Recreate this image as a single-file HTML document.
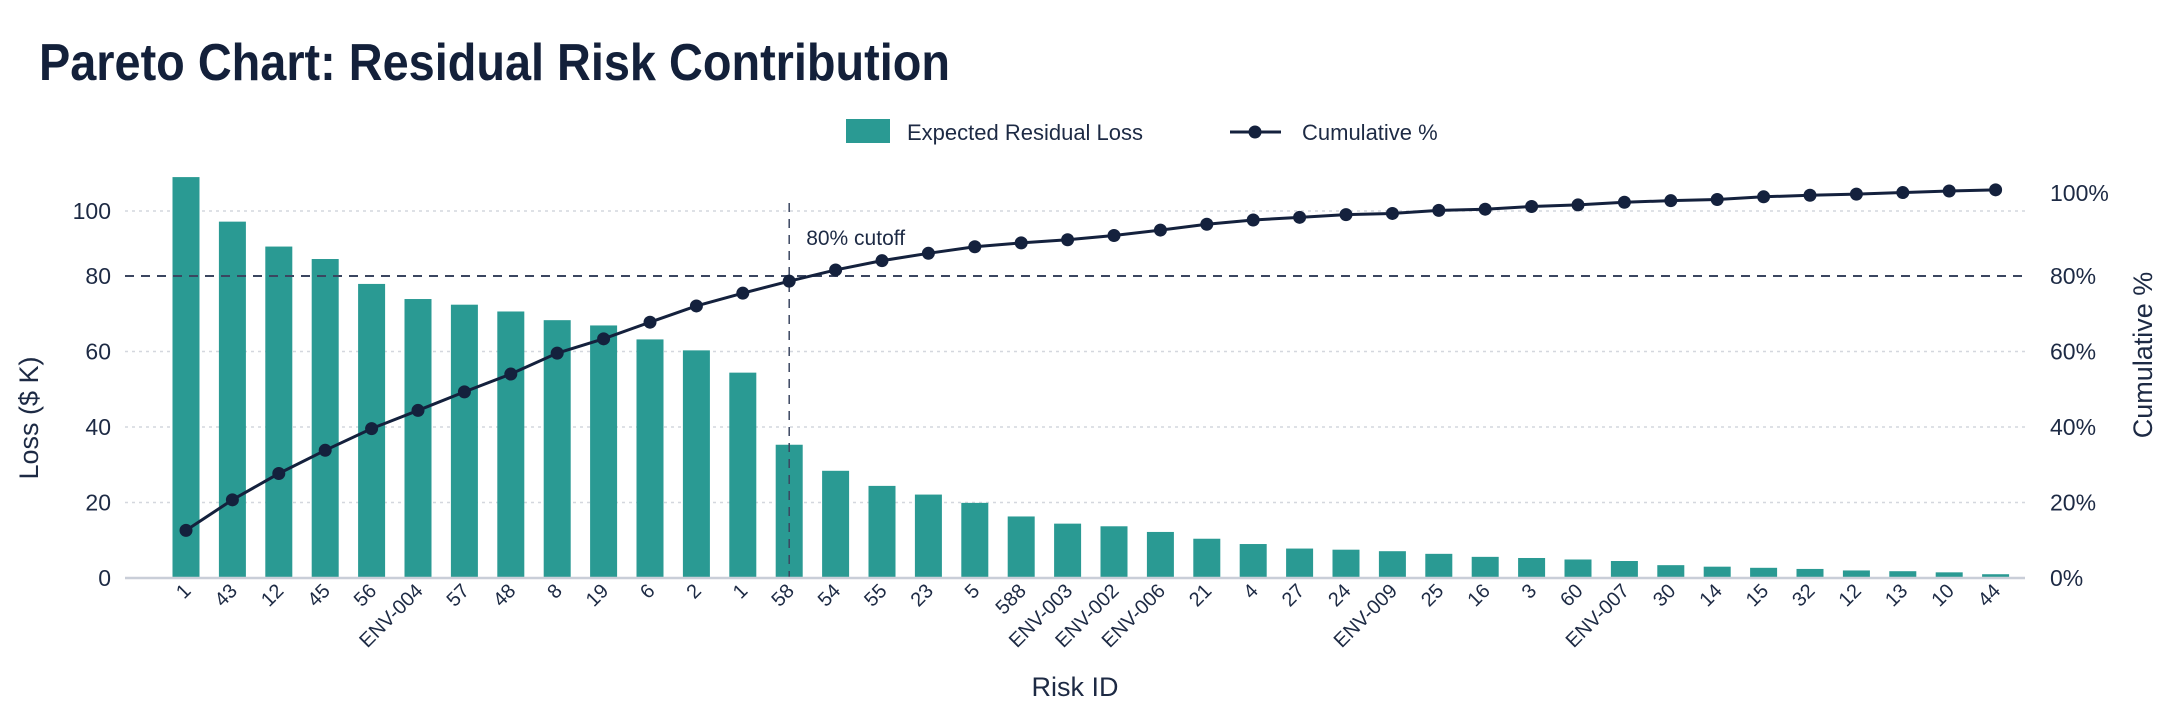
<!DOCTYPE html>
<html><head><meta charset="utf-8">
<style>
html,body{margin:0;padding:0;background:#fff;}
svg{display:block;font-family:"Liberation Sans",sans-serif;}
</style></head>
<body>
<svg id="chart" width="2172" height="724" viewBox="0 0 2172 724" xmlns="http://www.w3.org/2000/svg">
<text x="39" y="80" font-size="52" font-weight="bold" fill="#13203a" textLength="911" lengthAdjust="spacingAndGlyphs">Pareto Chart: Residual Risk Contribution</text>
<g>
<rect x="846" y="119" width="44" height="24" fill="#2a9a93"/>
<text x="907" y="140" font-size="22" fill="#1d2a44">Expected Residual Loss</text>
<line x1="1230" y1="132" x2="1281" y2="132" stroke="#14213d" stroke-width="3"/>
<circle cx="1255" cy="132" r="6.5" fill="#14213d"/>
<text x="1302" y="140" font-size="22" fill="#1d2a44">Cumulative %</text>
</g>
<g id="grid"></g>
<g id="bars"></g>
<g id="refs"></g>
<g id="line"></g>
<g id="axes"></g>
<text transform="translate(38,418) rotate(-90)" text-anchor="middle" font-size="27" fill="#1d2a44">Loss ($ K)</text>
<text transform="translate(2152,355) rotate(-90)" text-anchor="middle" font-size="27" fill="#1d2a44">Cumulative %</text>
<text x="1075" y="696" text-anchor="middle" font-size="27" fill="#1d2a44">Risk ID</text>
</svg>
<script>
const categories = ["1","43","12","45","56","ENV-004","57","48","8","19","6","2","1","58","54","55","23","5","588","ENV-003","ENV-002","ENV-006","21","4","27","24","ENV-009","25","16","3","60","ENV-007","30","14","15","32","12","13","10","44"];
const lossValues = [106.2,94.4,87.8,84.5,77.9,73.9,72.4,70.6,68.3,66.9,63.2,60.3,54.4,35.3,28.4,24.4,22.1,19.9,16.3,14.4,13.7,12.2,10.4,9.0,7.8,7.5,7.1,6.4,5.6,5.3,4.9,4.5,3.4,3.0,2.7,2.4,2.0,1.8,1.5,1.0];
const cumulativePct = [12.3,20.2,27.0,33.0,38.6,43.3,48.1,52.7,58.1,61.8,66.1,70.3,73.6,76.7,79.6,82.0,83.9,85.6,86.6,87.4,88.5,89.9,91.4,92.5,93.2,93.9,94.2,95.0,95.3,96.0,96.4,97.1,97.5,97.8,98.5,98.9,99.2,99.6,100.0,100.3];
const leftTicks = [0,20,40,60,80,100];
const rightTicks = [0,20,40,60,80,100];
const cutoffLoss = 80;
const cutoffIndex = 13;

const NS="http://www.w3.org/2000/svg";
const X0=125, X1=2025, BASE=578;
function xPos(i){return 186 + i*46.4;}
function yLeft(v){return BASE - v*3.775;}
function yRight(p){return BASE - p*3.87;}
function yLeftTick(t){return t>80 ? 211 : yLeft(t);}
function yRightTick(t){return t>80 ? 193 : yLeft(t);}
function mk(tag,attrs,parent){const e=document.createElementNS(NS,tag);for(const k in attrs)e.setAttribute(k,attrs[k]);parent.appendChild(e);return e;}

const grid=document.getElementById('grid');
leftTicks.forEach(t=>{
  if(t===0||t===80)return;
  const g=mk('line',{x1:X0,x2:X1,y1:yLeftTick(t),y2:yLeftTick(t),stroke:'#d4d7de','stroke-width':1.5,'stroke-dasharray':'3,4'},grid);
  
  
});

const bars=document.getElementById('bars');
lossValues.forEach((v,i)=>{
  const r=mk('rect',{x:xPos(i)-13.5,y:yLeft(v),width:27,height:BASE-yLeft(v),fill:'#2a9a93'},bars);
  
  
});

const refs=document.getElementById('refs');
const hl=mk('line',{x1:X0,x2:X1,y1:yLeft(cutoffLoss),y2:yLeft(cutoffLoss),stroke:'#3b4660','stroke-width':2,'stroke-dasharray':'9,7'},refs);


const vl=mk('line',{x1:xPos(cutoffIndex),x2:xPos(cutoffIndex),y1:203,y2:BASE,stroke:'#3b4660','stroke-width':1.5,'stroke-dasharray':'9,7'},refs);


const ct=mk('text',{x:xPos(cutoffIndex)+17,y:245,'font-size':21,fill:'#1d2a44'},refs);
ct.textContent='80% cutoff';



const lg=document.getElementById('line');
const pts=cumulativePct.map((p,i)=>xPos(i)+','+yRight(p)).join(' ');
const pl=mk('polyline',{points:pts,fill:'none',stroke:'#14213d','stroke-width':3},lg);


cumulativePct.forEach((p,i)=>{
  const c=mk('circle',{cx:xPos(i),cy:yRight(p),r:6.5,fill:'#14213d'},lg);
  
  
});

const ax=document.getElementById('axes');
const bl=mk('line',{x1:X0,x2:X1,y1:BASE,y2:BASE,stroke:'#c9ced8','stroke-width':2.5},ax);


leftTicks.forEach(t=>{
  const e=mk('text',{x:111,y:yLeftTick(t)+8,'text-anchor':'end','font-size':23,fill:'#1d2a44'},ax);
  e.textContent=String(t);
  
  
});
rightTicks.forEach(t=>{
  const e=mk('text',{x:2050,y:yRightTick(t)+8,'font-size':23,fill:'#1d2a44'},ax);
  e.textContent=t+'%';
  
  
});
categories.forEach((c,i)=>{
  const e=mk('text',{transform:'translate('+(xPos(i)+6)+',592) rotate(-45)','text-anchor':'end','font-size':20,fill:'#1d2a44'},ax);
  e.textContent=c;
  
  
});
</script>
</body></html>
